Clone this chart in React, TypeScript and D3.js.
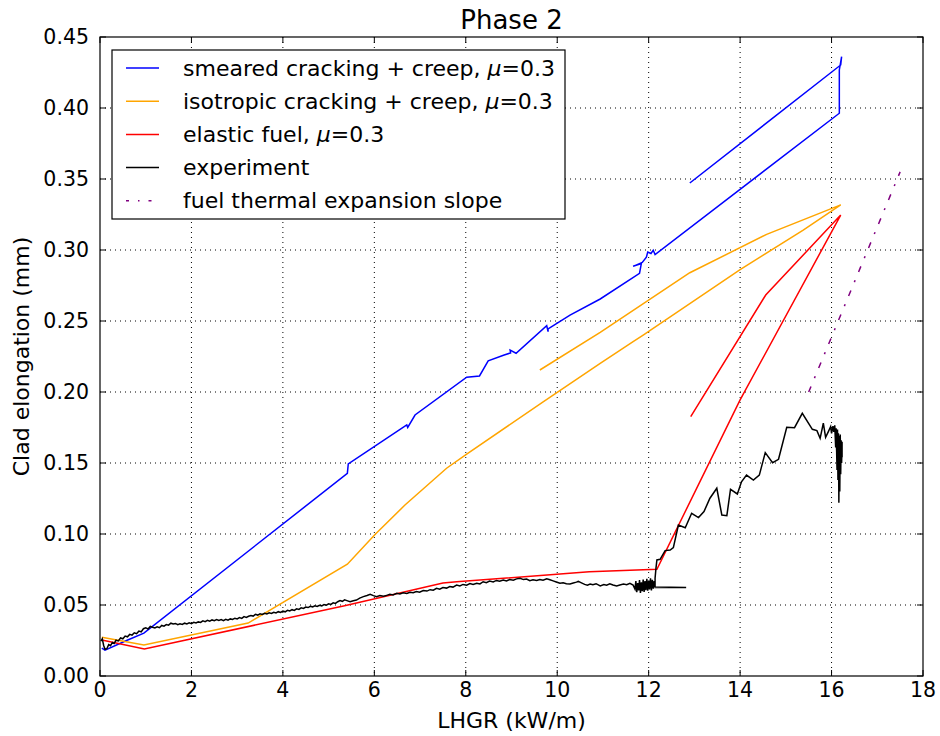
import React from "react";
import * as d3 from "d3";

type Pt = [number, number];

const title = "Phase 2";
const xLabel = "LHGR (kW/m)";
const yLabel = "Clad elongation (mm)";
const xTicks = [0, 2, 4, 6, 8, 10, 12, 14, 16, 18];
const yTicks = [0, 0.05, 0.1, 0.15, 0.2, 0.25, 0.3, 0.35, 0.4, 0.45];

const smeared: Pt[] = [
  [0.04, 0.0197], [0.11, 0.0182], [0.58, 0.025], [0.96, 0.0302], [5.41, 0.1427], [5.43, 0.1493],
  [6.71, 0.1768], [6.73, 0.175], [6.89, 0.1838], [8.02, 0.2104], [8.3, 0.2113], [8.49, 0.222],
  [8.84, 0.2261], [8.98, 0.2275], [8.97, 0.2295], [9.1, 0.2273], [9.77, 0.2467], [9.8, 0.2425],
  [9.8, 0.2445], [10.28, 0.2542], [10.94, 0.2655], [11.8, 0.2836], [11.84, 0.2905], [11.66, 0.2885],
  [11.86, 0.2912], [11.95, 0.295], [11.98, 0.2985], [12.05, 0.2975], [12.1, 0.2998], [12.14, 0.2968],
  [16.17, 0.3963], [16.17, 0.4268], [16.22, 0.4361], [16.2, 0.4303], [12.9, 0.3472],
];

const isotropic: Pt[] = [
  [0.04, 0.0273], [0.96, 0.0218], [3.24, 0.0373], [5.41, 0.0787], [6.02, 0.0998], [6.67, 0.1204],
  [7.58, 0.1463], [8.02, 0.1563], [9.7, 0.1932], [10.94, 0.2202], [11.66, 0.2355], [11.88, 0.2401],
  [14.0, 0.2862], [15.38, 0.314], [16.2, 0.3318], [14.58, 0.311], [12.9, 0.284], [10.94, 0.242],
  [9.62, 0.2155],
];

const elastic: Pt[] = [
  [0.04, 0.0254], [0.97, 0.019], [5.35, 0.0495], [7.5, 0.0655], [7.8, 0.0663], [10.7, 0.0735],
  [12.18, 0.0752], [14.0, 0.1944], [16.2, 0.3246], [14.56, 0.2683], [12.92, 0.1826],
];

const experiment: Pt[] = [
  [0.02, 0.0245], [0.05, 0.0262], [0.08, 0.0215], [0.11, 0.0188], [0.15, 0.0192], [0.19, 0.0221],
  [0.23, 0.0213], [0.27, 0.0236], [0.31, 0.0229], [0.35, 0.0252], [0.4, 0.0247], [0.45, 0.0268],
  [0.5, 0.0262], [0.55, 0.0281], [0.6, 0.0276], [0.65, 0.0293], [0.7, 0.0288], [0.75, 0.0304],
  [0.8, 0.0298], [0.85, 0.0316], [0.9, 0.0311], [0.95, 0.0333], [1.0, 0.034], [1.05, 0.0331],
  [1.1, 0.0349], [1.15, 0.0343], [1.2, 0.0338], [1.25, 0.0347], [1.3, 0.034], [1.35, 0.0356],
  [1.4, 0.0351], [1.45, 0.0362], [1.5, 0.0358], [1.55, 0.0372], [1.6, 0.0366], [1.65, 0.037],
  [1.7, 0.0361], [1.75, 0.0368], [1.8, 0.0363], [1.85, 0.0372], [1.9, 0.0367], [1.95, 0.0375],
  [2.0, 0.0369], [2.05, 0.0378], [2.1, 0.0373], [2.15, 0.0381], [2.2, 0.0377], [2.25, 0.0388],
  [2.3, 0.0383], [2.35, 0.0392], [2.4, 0.0386], [2.45, 0.0395], [2.5, 0.039], [2.55, 0.0398],
  [2.6, 0.0391], [2.65, 0.0397], [2.7, 0.039], [2.75, 0.0399], [2.8, 0.0393], [2.85, 0.0402],
  [2.9, 0.0398], [2.95, 0.0407], [3.0, 0.0402], [3.05, 0.0411], [3.1, 0.0406], [3.15, 0.0418],
  [3.2, 0.0413], [3.25, 0.0421], [3.3, 0.0426], [3.35, 0.0422], [3.4, 0.0434], [3.45, 0.0429],
  [3.5, 0.0438], [3.55, 0.0433], [3.6, 0.0442], [3.65, 0.0437], [3.7, 0.0445], [3.75, 0.044],
  [3.8, 0.0449], [3.85, 0.0444], [3.9, 0.0453], [3.95, 0.0448], [4.0, 0.0457], [4.05, 0.0452],
  [4.1, 0.0462], [4.15, 0.0458], [4.2, 0.0467], [4.25, 0.0462], [4.3, 0.0473], [4.35, 0.0469],
  [4.4, 0.048], [4.45, 0.0476], [4.5, 0.0486], [4.55, 0.0482], [4.6, 0.0491], [4.65, 0.0487],
  [4.7, 0.0495], [4.75, 0.049], [4.8, 0.0498], [4.85, 0.0494], [4.9, 0.0503], [4.95, 0.0499],
  [5.0, 0.0508], [5.05, 0.0504], [5.1, 0.0515], [5.15, 0.0511], [5.2, 0.0523], [5.25, 0.0531],
  [5.3, 0.0526], [5.35, 0.0536], [5.4, 0.0531], [5.47, 0.0523], [5.54, 0.053], [5.61, 0.0535],
  [5.68, 0.0548], [5.76, 0.0559], [5.84, 0.0567], [5.91, 0.0575], [5.98, 0.0566], [6.05, 0.0559],
  [6.12, 0.0566], [6.2, 0.0561], [6.27, 0.0568], [6.34, 0.0575], [6.41, 0.0571], [6.49, 0.0583],
  [6.56, 0.0578], [6.63, 0.0586], [6.71, 0.0581], [6.78, 0.059], [6.85, 0.0586], [6.92, 0.0595],
  [6.99, 0.059], [7.07, 0.0602], [7.15, 0.0598], [7.22, 0.0608], [7.29, 0.0604], [7.36, 0.0617],
  [7.43, 0.0611], [7.5, 0.0623], [7.58, 0.0619], [7.65, 0.063], [7.72, 0.0626], [7.8, 0.064],
  [7.87, 0.0634], [7.94, 0.0645], [8.02, 0.064], [8.09, 0.0651], [8.16, 0.0644], [8.24, 0.0653],
  [8.31, 0.0648], [8.38, 0.0664], [8.45, 0.0657], [8.52, 0.0668], [8.6, 0.0662], [8.67, 0.0673],
  [8.74, 0.0667], [8.82, 0.0676], [8.89, 0.067], [8.96, 0.068], [9.04, 0.0675], [9.11, 0.0684],
  [9.19, 0.0688], [9.26, 0.0679], [9.33, 0.0683], [9.4, 0.0671], [9.47, 0.0678], [9.55, 0.0673],
  [9.62, 0.068], [9.69, 0.0674], [9.77, 0.0684], [9.84, 0.0678], [9.91, 0.067], [9.98, 0.0662],
  [10.06, 0.0653], [10.13, 0.0657], [10.2, 0.065], [10.28, 0.0648], [10.35, 0.0655], [10.42, 0.0661],
  [10.46, 0.0666], [10.53, 0.0656], [10.6, 0.0645], [10.66, 0.064], [10.72, 0.0648], [10.78, 0.0643],
  [10.85, 0.065], [10.94, 0.0634], [11.02, 0.0644], [11.08, 0.064], [11.15, 0.065], [11.22, 0.0641],
  [11.3, 0.0634], [11.37, 0.0641], [11.45, 0.0647], [11.52, 0.0643], [11.59, 0.0653], [11.66, 0.064],
  [11.7, 0.0612], [11.72, 0.0668], [11.74, 0.059], [11.76, 0.0655], [11.78, 0.0602], [11.8, 0.0675],
  [11.82, 0.0585], [11.84, 0.066], [11.86, 0.0598], [11.88, 0.068], [11.9, 0.0592], [11.92, 0.0668],
  [11.94, 0.0605], [11.96, 0.0685], [11.98, 0.06], [12.0, 0.0672], [12.02, 0.061], [12.04, 0.0688],
  [12.06, 0.0603], [12.08, 0.0678], [12.1, 0.0615], [12.12, 0.0668], [12.14, 0.0624], [12.82, 0.0624],
  [12.14, 0.0627], [12.14, 0.0688], [12.16, 0.076], [12.18, 0.0817], [12.25, 0.0822], [12.36, 0.0883],
  [12.47, 0.0887], [12.54, 0.0904], [12.65, 0.1063], [12.8, 0.1044], [12.94, 0.1146], [13.09, 0.1116],
  [13.21, 0.1158], [13.34, 0.1252], [13.49, 0.1322], [13.6, 0.1134], [13.71, 0.1129], [13.79, 0.1315],
  [13.94, 0.1282], [14.03, 0.1368], [14.14, 0.1415], [14.29, 0.138], [14.42, 0.1415], [14.55, 0.1573],
  [14.71, 0.1502], [14.84, 0.1526], [15.02, 0.1751], [15.19, 0.1749], [15.36, 0.185], [15.58, 0.1737],
  [15.68, 0.1728], [15.75, 0.1674], [15.82, 0.178], [15.87, 0.1681], [15.93, 0.1721], [15.98, 0.1756],
  [16.0, 0.1709], [16.03, 0.176], [16.05, 0.172], [16.07, 0.1765], [16.09, 0.161], [16.1, 0.1745],
  [16.12, 0.145], [16.13, 0.1735], [16.14, 0.138], [16.15, 0.171], [16.16, 0.122], [16.17, 0.169],
  [16.18, 0.13], [16.19, 0.17], [16.2, 0.142], [16.21, 0.166], [16.22, 0.15], [16.23, 0.165],
  [16.23, 0.154],
];

const thermalSlope: Pt[] = [[15.5, 0.2], [17.5, 0.355]];

const seriesNames = [
  "smeared cracking + creep, ",
  "isotropic cracking + creep, ",
  "elastic fuel, ",
  "experiment",
  "fuel thermal expansion slope",
];
const seriesMu = [true, true, true, false, false];
const seriesColors = ["#0000ff", "#ffa500", "#ff0000", "#000000", "#800080"];
const seriesDash = [null, null, null, null, "6,9,2,9"];

const W = 940;
const H = 736;
const L = 100, R = 923, T = 37, B = 676;
const FONT = "DejaVu Sans, sans-serif";

export default function App() {
  const x = d3.scaleLinear().domain([0, 18]).range([L, R]);
  const y = d3.scaleLinear().domain([0, 0.45]).range([B, T]);
  const line = d3.line<Pt>().x((d) => x(d[0])).y((d) => y(d[1]));
  const data = [smeared, isotropic, elastic, experiment, thermalSlope];
  const drawOrder = [0, 1, 2, 3, 4];
  const tickLen = 6;

  const legX = 112, legY = 50, legW = 453, legH = 169;
  const rowY = (i: number) => 68 + i * 33.2;

  return (
    <svg width={W} height={H} style={{ position: "absolute", left: 0, top: 0, background: "#fff" }} fontFamily={FONT}>
      <rect x={0} y={0} width={W} height={H} fill="#fff" />
      <defs>
        <clipPath id="plot">
          <rect x={L} y={T} width={R - L} height={B - T} />
        </clipPath>
      </defs>
      {xTicks.slice(1, -1).map((t) => (
        <line key={"gx" + t} x1={x(t)} x2={x(t)} y1={T} y2={B} stroke="#000" strokeWidth={1} strokeDasharray="1,4" />
      ))}
      {yTicks.slice(1, -1).map((t) => (
        <line key={"gy" + t} x1={L} x2={R} y1={y(t)} y2={y(t)} stroke="#000" strokeWidth={1} strokeDasharray="1,4" />
      ))}
      <g clipPath="url(#plot)">
        {drawOrder.map((i) => (
          <path
            key={"s" + i}
            d={line(data[i]) || ""}
            fill="none"
            stroke={seriesColors[i]}
            strokeWidth={1.5}
            strokeLinejoin="miter"
            strokeDasharray={seriesDash[i] || undefined}
          />
        ))}
      </g>
      <rect x={L} y={T} width={R - L} height={B - T} fill="none" stroke="#000" strokeWidth={1.2} />
      {xTicks.map((t) => (
        <g key={"xt" + t}>
          <line x1={x(t)} x2={x(t)} y1={B} y2={B - tickLen} stroke="#000" />
          <line x1={x(t)} x2={x(t)} y1={T} y2={T + tickLen} stroke="#000" />
          <text x={x(t)} y={697} fontSize={20.5} textAnchor="middle">{t}</text>
        </g>
      ))}
      {yTicks.map((t) => (
        <g key={"yt" + t}>
          <line x1={L} x2={L + tickLen} y1={y(t)} y2={y(t)} stroke="#000" />
          <line x1={R} x2={R - tickLen} y1={y(t)} y2={y(t)} stroke="#000" />
          <text x={89} y={y(t) + 7} fontSize={20.5} textAnchor="end">{t.toFixed(2)}</text>
        </g>
      ))}
      <text x={(L + R) / 2} y={29} fontSize={26} textAnchor="middle">{title}</text>
      <text x={(L + R) / 2} y={728} fontSize={22} textAnchor="middle">{xLabel}</text>
      <text transform={`translate(29, ${(T + B) / 2}) rotate(-90)`} fontSize={22} textAnchor="middle">{yLabel}</text>
      <rect x={legX} y={legY} width={legW} height={legH} fill="#fff" stroke="#000" strokeWidth={1.2} />
      {seriesNames.map((name, i) => (
        <g key={"lg" + i}>
          <line x1={126} x2={159} y1={rowY(i)} y2={rowY(i)} stroke={seriesColors[i]} strokeWidth={1.5}
            strokeDasharray={seriesDash[i] ? "3,9,1.5,9" : undefined} />
          <text x={183} y={rowY(i) + 7.5} fontSize={22}>
            {name}
            {seriesMu[i] ? (
              <>
                <tspan fontStyle="italic">μ</tspan>
                <tspan>=0.3</tspan>
              </>
            ) : null}
          </text>
        </g>
      ))}
    </svg>
  );
}
